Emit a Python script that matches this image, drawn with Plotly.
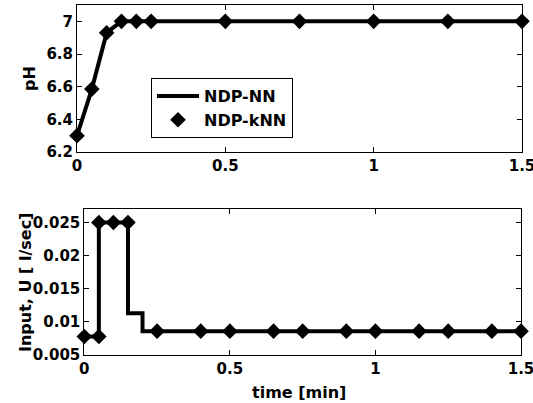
import plotly.graph_objects as go

# Top panel: pH
t_ph = [0, 0.05, 0.1, 0.15, 0.2, 0.25, 0.5, 0.75, 1.0, 1.25, 1.5]
ph_nn = [6.3, 6.585, 6.93, 7.0, 7.0, 7.0, 7.0, 7.0, 7.0, 7.0, 7.0]
ph_knn = [6.3, 6.585, 6.93, 7.0, 7.0, 7.0, 7.0, 7.0, 7.0, 7.0, 7.0]

# Bottom panel: input U (step signal)
t_u_nn = [0, 0.05, 0.15, 0.2, 1.5]
u_nn = [0.0078, 0.025, 0.0113, 0.0086, 0.0086]
t_u_knn = [0, 0.05, 0.05, 0.1, 0.15, 0.25, 0.4, 0.5, 0.65, 0.75, 0.9, 1.0, 1.15, 1.25, 1.4, 1.5]
u_knn = [0.0078, 0.0078, 0.025, 0.025, 0.025, 0.0086, 0.0086, 0.0086, 0.0086, 0.0086,
         0.0086, 0.0086, 0.0086, 0.0086, 0.0086, 0.0086]

x_ticks = [0, 0.5, 1, 1.5]
x_ticklabels = ["0", "0.5", "1", "1.5"]
ph_ticks = [6.2, 6.4, 6.6, 6.8, 7]
ph_ticklabels = ["6.2", "6.4", "6.6", "6.8", "7"]
u_ticks = [0.005, 0.01, 0.015, 0.02, 0.025]
u_ticklabels = ["0.005", "0.01", "0.015", "0.02", "0.025"]

FONT = "DejaVu Sans"
W, H = 533, 403

fig = go.Figure()
fig.add_trace(go.Scatter(x=t_ph, y=ph_nn, mode="lines", name="<b>NDP-NN</b>",
                         line=dict(color="black", width=4), xaxis="x", yaxis="y",
                         cliponaxis=False))
fig.add_trace(go.Scatter(x=t_ph, y=ph_knn, mode="markers", name="<b>NDP-kNN</b>",
                         marker=dict(symbol="diamond", size=12, color="black"),
                         xaxis="x", yaxis="y", cliponaxis=False))
fig.add_trace(go.Scatter(x=t_u_nn, y=u_nn, mode="lines", line_shape="hv", showlegend=False,
                         line=dict(color="black", width=4), xaxis="x2", yaxis="y2",
                         cliponaxis=False))
fig.add_trace(go.Scatter(x=t_u_knn, y=u_knn, mode="markers", showlegend=False,
                         marker=dict(symbol="diamond", size=12, color="black"),
                         xaxis="x2", yaxis="y2", cliponaxis=False))

axis_common = dict(showgrid=False, zeroline=False, showline=True, linecolor="black",
                   linewidth=1, mirror="ticks", ticks="inside", ticklen=5,
                   tickcolor="black", ticklabeloverflow="allow", automargin=False,
                   tickfont=dict(family=FONT, size=15, color="black"))

fig.update_layout(
    width=W, height=H, margin=dict(l=0, r=0, t=0, b=0, autoexpand=False),
    paper_bgcolor="white", plot_bgcolor="white",
    font=dict(family=FONT, color="black"),
    xaxis=dict(domain=[77 / W, 522 / W], range=[0, 1.5], anchor="y",
               tickvals=x_ticks, ticktext=["<b>%s</b>" % s for s in x_ticklabels], **axis_common),
    yaxis=dict(domain=[1 - 152 / H, 1 - 5 / H], range=[6.2, 7.1], anchor="x",
               tickvals=ph_ticks, ticktext=["<b>%s</b>" % s for s in ph_ticklabels], **axis_common),
    xaxis2=dict(domain=[84.3 / W, 521 / W], range=[0, 1.5], anchor="y2",
                tickvals=x_ticks, ticktext=["<b>%s</b>" % s for s in x_ticklabels], **axis_common),
    yaxis2=dict(domain=[1 - 355 / H, 1 - 209.3 / H], range=[0.005, 0.027], anchor="x2",
                tickvals=u_ticks, ticktext=["<b>%s</b>" % s for s in u_ticklabels], **axis_common),
    legend=dict(x=151 / W, y=1 - 78 / H, xanchor="left", yanchor="top",
                bordercolor="black", borderwidth=1, bgcolor="white",
                font=dict(family=FONT, size=16, color="black"), itemwidth=42,
                tracegroupgap=0),
    showlegend=True,
)

ann_font = dict(family=FONT, size=16, color="black")
fig.add_annotation(text="<b>pH</b>", x=30 / W, y=1 - 79 / H, xref="paper", yref="paper",
                   xanchor="center", yanchor="middle",
                   showarrow=False, textangle=-90, font=ann_font)
fig.add_annotation(text="<b>Input, U [ l/sec]</b>", x=25 / W, y=1 - 283 / H, xref="paper",
                   yref="paper", xanchor="center", yanchor="middle",
                   showarrow=False, textangle=-90, font=ann_font)
fig.add_annotation(text="<b>time [min]</b>", x=299 / W, y=1 - 392 / H, xref="paper",
                   yref="paper", xanchor="center", yanchor="middle",
                   showarrow=False, font=ann_font)

fig.write_html("out.html", config={"displayModeBar": False},
               post_script="document.body.style.margin='0';document.body.style.overflow='hidden';")
